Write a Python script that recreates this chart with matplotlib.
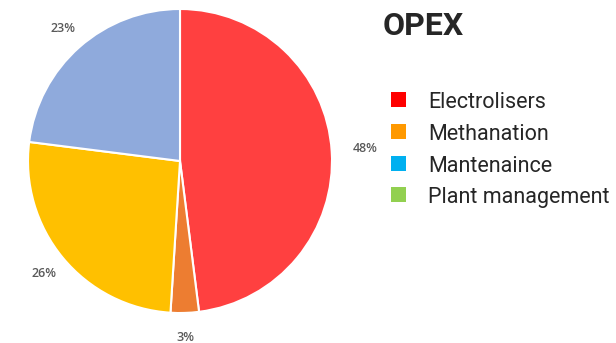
import matplotlib.pyplot as plt
from matplotlib.patches import Rectangle

# OPEX split, clockwise from 12 o'clock
shares = [48, 3, 26, 23]
pie_colors = ["#FF4040", "#ED7D31", "#FFC000", "#8FAADC"]

legend_labels = ["Electrolisers", "Methanation", "Mantenaince", "Plant management"]
legend_colors = ["#FF0000", "#FF9900", "#00B0F0", "#92D050"]

W, H = 616, 343
fig = plt.figure(figsize=(W / 100, H / 100), dpi=100)
fig.patch.set_facecolor("white")
plt.rcParams["font.family"] = ["Roboto", "DejaVu Sans"]

# pie centre at (180, 161) px, radius 152 px
cx, cy, r = 180, 161, 152
ax = fig.add_axes([(cx - r) / W, (H - cy - r) / H, 2 * r / W, 2 * r / H])
wedges, texts, autotexts = ax.pie(
    shares, colors=pie_colors, startangle=90, counterclock=False,
    autopct="%d%%", pctdistance=1.16, radius=1.0,
    wedgeprops=dict(edgecolor="white", linewidth=1.5),
    textprops=dict(color="#595959", fontsize=9, fontweight="semibold",
                   family=["Open Sans", "DejaVu Sans"]))
autotexts[0].set_position((1.22, 0.08))
ax.set_xlim(-1, 1)
ax.set_ylim(-1, 1)
ax.set_aspect("equal")
ax.axis("off")

fig.text(423 / W, 1 - 26 / H, "OPEX", fontsize=23, fontweight="bold",
         color="#262626", ha="center", va="center")

# hand-made legend
for i, (lab, col) in enumerate(zip(legend_labels, legend_colors)):
    yc = 100 + i * 31.5
    fig.add_artist(Rectangle((391 / W, 1 - (yc + 7.5) / H), 15 / W, 15 / H,
                             transform=fig.transFigure, facecolor=col,
                             edgecolor="none"))
    fig.text(428 / W, 1 - (yc + 3) / H, lab, fontsize=15.5, color="#262626",
             ha="left", va="center")

fig.savefig("out.png", dpi=100)
